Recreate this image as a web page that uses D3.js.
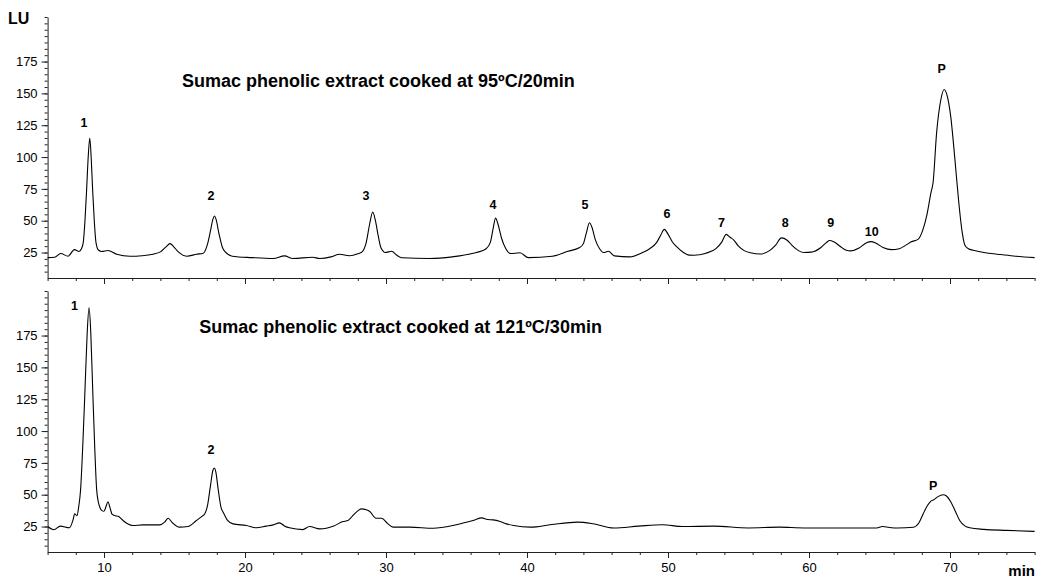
<!DOCTYPE html>
<html><head><meta charset="utf-8">
<script src="https://cdn.jsdelivr.net/npm/d3@7"></script>
<style>body{margin:0;background:#fff}svg{display:block}text{font-family:"Liberation Sans",Arial,sans-serif;fill:#000}</style>
</head><body><svg id="c" width="1042" height="580"></svg>
<script>
// ---- data: [time (min), signal (LU)] ----
const trace95 = [[6.0,21],[6.5,21.3],[6.93,24.2],[7.45,22.1],[7.9,27.3],[8.23,25.8],[8.4,28],[8.53,33],[8.65,50],[8.77,75],[8.88,100],[8.99,115],[9.09,100],[9.19,75],[9.31,50],[9.43,33],[9.6,27],[9.84,25.8],[10.28,26.6],[10.9,23.7],[11.84,22.1],[12.7,22.5],[13.48,23.7],[14.0,25.5],[14.4,29.5],[14.68,32],[14.95,29.5],[15.27,25.5],[15.87,22.1],[16.57,23.7],[17.04,24.5],[17.35,32],[17.55,42],[17.72,51],[17.83,53.7],[17.95,51],[18.15,40],[18.4,29],[18.6,25.5],[19.1,22.1],[20.5,21],[22.0,20.3],[22.8,22.4],[23.4,20.3],[24.8,21.3],[25.3,20.3],[26.1,21.6],[26.7,23.7],[27.4,22.5],[28.0,24],[28.3,25.5],[28.6,33],[28.85,48],[29.06,56.8],[29.25,50],[29.45,38],[29.65,28.5],[29.95,25],[30.4,26],[30.75,23],[31.13,20.9],[33.1,20.3],[34.7,21.6],[36.1,24.2],[37.1,28],[37.4,33],[37.6,44],[37.77,52],[37.95,47],[38.2,36],[38.5,28],[38.83,24.2],[39.5,24.8],[40.1,21],[41.8,22.1],[42.9,26],[43.7,28.7],[44.0,32],[44.2,40],[44.43,48.4],[44.6,45],[44.85,35],[45.15,28],[45.43,25],[45.77,26],[46.2,22.4],[47.3,21.6],[48.1,24.5],[48.7,28],[49.2,33],[49.5,39],[49.73,43.2],[50.0,39.5],[50.3,33.5],[50.63,29.4],[51.1,25],[51.5,23],[51.85,22.9],[52.7,24.5],[53.4,28.1],[53.8,33],[54.13,39.3],[54.4,37],[54.65,35],[55.0,30],[55.4,26.5],[55.85,24.8],[56.55,23.8],[57.2,26.5],[57.65,31],[58.04,36.5],[58.45,34.7],[58.85,30],[59.25,26.5],[59.65,25],[60.15,25.3],[60.85,29],[61.25,33],[61.45,34.4],[61.75,33.5],[62.25,29.5],[62.6,27],[62.95,26.3],[63.55,28.5],[64.05,32.5],[64.4,33.6],[64.75,32.3],[65.25,29],[65.85,27.3],[66.4,28],[66.9,31],[67.25,33.4],[67.75,35.5],[68.05,42],[68.35,54],[68.65,72],[68.8,80],[69.05,119],[69.35,145],[69.58,153],[69.8,148],[70.05,132],[70.35,98],[70.6,67],[70.85,42],[71.05,31],[71.3,28],[71.65,26.8],[72.5,24.8],[73.35,23.7],[74.5,22.3],[76.0,21.0]];

const trace121 = [[6.0,25],[6.45,22.5],[6.9,25.3],[7.55,24],[7.8,30],[7.92,35],[8.08,33.5],[8.2,40],[8.34,54],[8.5,90],[8.65,132],[8.8,175],[8.94,197],[9.06,178],[9.2,132],[9.35,85],[9.48,54],[9.65,42],[9.85,37.5],[10.0,37],[10.15,41],[10.28,44.5],[10.42,40],[10.58,34.5],[10.8,33.5],[11.0,33.1],[11.35,29.7],[11.7,27],[12.05,25.8],[12.75,26.3],[13.95,26.3],[14.3,28.5],[14.55,31.5],[14.85,28],[15.35,24.5],[15.95,25],[16.55,29.7],[16.95,33],[17.15,35],[17.35,42],[17.55,57],[17.72,69],[17.82,71],[17.93,68],[18.1,54],[18.3,40],[18.45,36.3],[18.75,30],[19.15,27.1],[20.1,25.8],[20.8,24],[21.5,25.3],[22.0,26.3],[22.45,27.9],[22.8,25.5],[23.15,24],[24.1,22.6],[24.58,25],[25.3,23.2],[26.3,25.5],[26.95,28.9],[27.3,29.7],[27.6,33],[27.9,36.3],[28.25,38.9],[28.6,38.2],[28.85,36.8],[29.3,31.5],[29.7,31.5],[30.1,27.5],[30.5,24.5],[31.7,24.5],[33.35,23.7],[34.75,25.8],[35.7,28.4],[36.3,30.2],[36.78,31.8],[37.2,30.5],[37.6,30.2],[38.1,28.9],[38.55,27.1],[39.05,25.8],[40.25,24.5],[41.75,26.6],[43.6,28.5],[44.7,27.2],[46.15,23.9],[47.9,25.3],[49.6,26.4],[51.05,25],[53.25,25.3],[55.7,23.9],[57.9,24.5],[59.65,23.9],[62.6,23.9],[64.8,23.9],[65.2,25],[65.7,24.3],[66.3,23.9],[67.4,24.5],[67.8,28],[68.1,35],[68.4,41.5],[68.65,45],[68.85,46],[69.15,48.5],[69.5,50],[69.75,49],[70.05,44.5],[70.4,36.5],[70.7,29.5],[71.05,25.5],[71.4,24],[72.4,22.8],[74.0,22],[76.0,21.2]];

// peak labels: [label, time (min), LU level of the label]
const peaks95 = [["1",8.58,123.6],["2",17.59,66.3],["3",28.58,66.3],["4",37.59,59],["5",44.11,59.2],["6",49.93,52.1],["7",53.8,44.8],["8",58.32,45],["9",61.54,45],["10",64.45,38],["P",69.41,166.3]];
const peaks121 = [["1",7.9,195.1],["2",17.59,82],["P",68.8,53.7]];

const titles = ["Sumac phenolic extract cooked at 95ºC/20min", "Sumac phenolic extract cooked at 121ºC/30min"];
const titlePos = [[15.53,155],[16.75,177]]; // [min, LU]
const yMajorTicks = [25,50,75,100,125,150,175];
const xMajorTicks = [10,20,30,40,50,60,70];
const xDomain = [6,76];
const yDomain = [5,210];
const yUnit = "LU", xUnit = "min";

// ---- drawing ----
const svg = d3.select("#c");
svg.append("rect").attr("width",1042).attr("height",580).attr("fill","#fff");
const x = d3.scaleLinear().domain(xDomain).range([47.6,1034.6]);
const panels = [
  {data: trace95, peaks: peaks95, title: titles[0], tpos: titlePos[0], range:[278,17], labels:false},
  {data: trace121, peaks: peaks121, title: titles[1], tpos: titlePos[1], range:[552,291], labels:true}
];
panels.forEach(p => {
  const y = d3.scaleLinear().domain(yDomain).range(p.range);
  const g = svg.append("g");
  g.append("g").attr("transform",`translate(${x(xDomain[0])},0)`)
    .call(d3.axisLeft(y).tickValues(d3.range(10,211,5)).tickSize(3).tickSizeOuter(0).tickFormat(""));
  const yMajor = g.append("g").attr("transform",`translate(${x(xDomain[0])},0)`)
    .call(d3.axisLeft(y).tickValues(yMajorTicks).tickSize(6).tickSizeOuter(0).tickPadding(4));
  yMajor.select(".domain").remove();
  yMajor.selectAll("text").attr("font-size",13).attr("font-family","Liberation Sans, Arial, sans-serif").attr("fill","#111");
  g.append("g").attr("transform",`translate(0,${y(yDomain[0])})`)
    .call(d3.axisBottom(x).tickValues(d3.range(6,77,2)).tickSize(3).tickSizeOuter(0).tickFormat(""));
  const xMajor = g.append("g").attr("transform",`translate(0,${y(yDomain[0])})`)
    .call(d3.axisBottom(x).tickValues(xMajorTicks).tickSize(6).tickSizeOuter(0).tickPadding(5));
  xMajor.select(".domain").remove();
  if (!p.labels) xMajor.selectAll("text").remove();
  else xMajor.selectAll("text").attr("font-size",13).attr("font-family","Liberation Sans, Arial, sans-serif").attr("fill","#111");
  g.selectAll(".domain, .tick line").attr("stroke","#222").attr("stroke-width",1);
  const line = d3.line().x(d=>x(d[0])).y(d=>y(d[1])).curve(d3.curveMonotoneX);
  g.append("path").datum(p.data).attr("d",line).attr("fill","none").attr("stroke","#000").attr("stroke-width",1.1);
  g.selectAll(".pk").data(p.peaks).enter().append("text")
    .attr("x",d=>x(d[1])).attr("y",d=>y(d[2])).attr("text-anchor","middle")
    .attr("font-size",12.5).attr("font-weight","bold").text(d=>d[0]);
  g.append("text").attr("x",x(p.tpos[0])).attr("y",y(p.tpos[1]))
    .attr("font-size",18).attr("font-weight","bold").text(p.title);
});
svg.append("text").attr("x",8).attr("y",24).attr("font-size",16).attr("font-weight","bold").text(yUnit);
svg.append("text").attr("x",1035).attr("y",576).attr("text-anchor","end").attr("font-size",15).attr("font-weight","bold").text(xUnit);
</script></body></html>
